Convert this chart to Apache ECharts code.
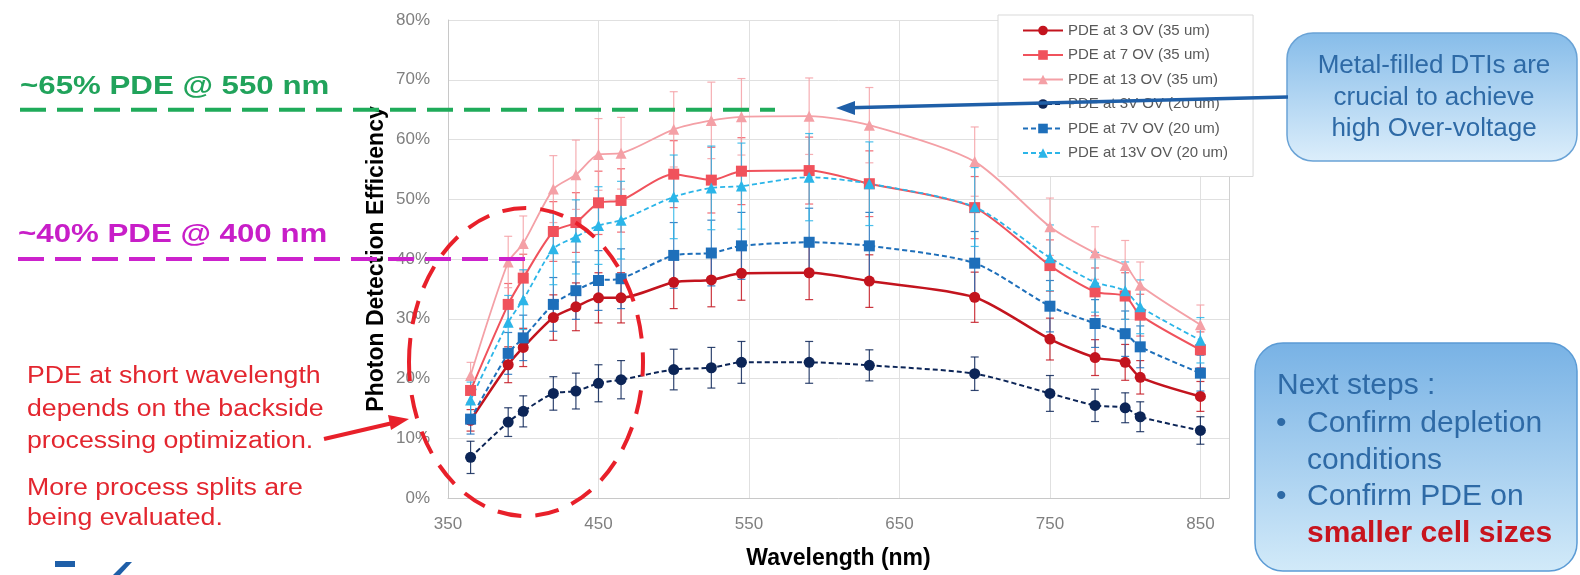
<!DOCTYPE html>
<html>
<head>
<meta charset="utf-8">
<script src="https://cdn.jsdelivr.net/npm/echarts@6/dist/echarts.min.js"></script>
<style>
  html, body { margin: 0; padding: 0; background: #fff; }
  #chart { width: 1580px; height: 575px; }
</style>
</head>
<body>
<div id="chart"></div>
<script>
// wavelengths (nm)
const wavelengths = [365, 390, 400, 420, 435, 450, 465, 500, 525, 545, 590, 630, 700, 750, 780, 800, 810, 850]

// PDE values (%)
const pde3ov35 = [13.0, 22.3, 25.2, 30.2, 32.0, 33.5, 33.5, 36.1, 36.5, 37.6, 37.7, 36.3, 33.6, 26.6, 23.5, 22.7, 20.2, 17.0]
const pde7ov35 = [18.0, 32.4, 36.8, 44.6, 46.1, 49.4, 49.8, 54.2, 53.2, 54.7, 54.8, 52.6, 48.6, 38.9, 34.5, 33.8, 30.6, 24.8]
const pde13ov35 = [20.5, 39.5, 42.6, 51.7, 54.1, 57.5, 57.7, 61.7, 63.2, 63.8, 63.9, 62.4, 56.3, 45.4, 41.0, 38.9, 35.6, 29.0]
const pde3ov20 = [6.8, 12.7, 14.5, 17.5, 17.9, 19.2, 19.8, 21.5, 21.8, 22.7, 22.7, 22.2, 20.8, 17.5, 15.5, 15.1, 13.6, 11.3]
const pde7ov20 = [13.2, 24.2, 26.8, 32.4, 34.7, 36.4, 36.7, 40.6, 41.0, 42.2, 42.8, 42.2, 39.3, 32.1, 29.2, 27.5, 25.3, 20.9]
const pde13ov20 = [16.4, 29.4, 33.2, 41.7, 43.7, 45.6, 46.5, 50.4, 51.9, 52.2, 53.7, 52.6, 48.7, 40.2, 36.1, 34.7, 32.0, 26.4]

// error bar half-heights (%)
const err3ov35 = [1.8, 3.0, 3.2, 3.8, 4.0, 4.2, 4.2, 4.4, 4.5, 4.5, 4.5, 4.4, 4.2, 3.5, 3.0, 3.0, 2.8, 2.5]
const err7ov35 = [2.0, 3.5, 4.0, 5.0, 5.0, 5.3, 5.3, 5.6, 5.5, 5.6, 5.6, 5.5, 5.2, 4.3, 4.0, 3.9, 3.5, 3.0]
const err13ov35 = [2.2, 4.3, 4.6, 5.6, 5.8, 6.0, 6.0, 6.3, 6.4, 6.4, 6.4, 6.3, 5.8, 4.8, 4.4, 4.2, 3.9, 3.3]
const err3ov20 = [2.7, 2.4, 2.6, 2.8, 3.0, 3.1, 3.2, 3.4, 3.4, 3.5, 3.5, 2.6, 2.8, 3.0, 2.7, 2.5, 2.5, 2.3]
const err7ov20 = [2.5, 3.5, 3.8, 4.5, 4.8, 5.0, 5.0, 5.5, 5.5, 5.6, 5.7, 5.6, 5.3, 4.3, 4.0, 3.8, 3.5, 3.0]
const err13ov20 = [3.0, 4.5, 5.0, 6.0, 6.2, 6.5, 6.5, 7.0, 7.0, 7.2, 7.3, 7.0, 6.6, 5.5, 5.0, 4.8, 4.5, 3.8]

const seriesNames = [
  'PDE at 3 OV (35 um)', 'PDE at 7 OV (35 um)', 'PDE at 13 OV (35 um)',
  'PDE at 3V OV (20 um)', 'PDE at 7V OV (20 um)', 'PDE at 13V OV (20 um)'
]

// reference levels for the annotations (%)
const levelHigh = 65
const levelLow = 40

const FONT = '"Liberation Sans", Arial, sans-serif'

const styles = [
  { values: pde3ov35, errs: err3ov35, color: '#c3141e', symbol: 'circle', width: 2.5, dash: 'solid' },
  { values: pde7ov35, errs: err7ov35, color: '#f0525c', symbol: 'rect', width: 2, dash: 'solid' },
  { values: pde13ov35, errs: err13ov35, color: '#f4a0a6', symbol: 'triangle', width: 1.8, dash: 'solid' },
  { values: pde3ov20, errs: err3ov20, color: '#0c2557', symbol: 'circle', width: 2, dash: [5, 3] },
  { values: pde7ov20, errs: err7ov20, color: '#1e6fba', symbol: 'rect', width: 2, dash: [5, 3] },
  { values: pde13ov20, errs: err13ov20, color: '#2bb5e8', symbol: 'triangle', width: 1.8, dash: [5, 3] }
]

const chart = echarts.init(document.getElementById('chart'))

// error bars first, lines on top
const errorSeries = styles.map((s, k) => ({
  name: 'err' + k,
  type: 'custom',
  z: 1,
  silent: true,
  encode: { x: 0, y: [1, 2] },
  data: wavelengths.map((w, i) => [w, s.values[i] - s.errs[i], s.values[i] + s.errs[i]]),
  renderItem: (params, api) => {
    const lo = api.coord([api.value(0), api.value(1)])
    const hi = api.coord([api.value(0), api.value(2)])
    const cap = 4
    const st = { stroke: s.color, lineWidth: 1.2, opacity: 0.85 }
    return {
      type: 'group',
      children: [
        { type: 'line', shape: { x1: lo[0], y1: lo[1], x2: hi[0], y2: hi[1] }, style: st },
        { type: 'line', shape: { x1: lo[0] - cap, y1: lo[1], x2: lo[0] + cap, y2: lo[1] }, style: st },
        { type: 'line', shape: { x1: hi[0] - cap, y1: hi[1], x2: hi[0] + cap, y2: hi[1] }, style: st }
      ]
    }
  }
}))

const lineSeries = styles.map((s, k) => ({
  name: seriesNames[k],
  type: 'line',
  z: 3,
  smooth: 0.25,
  symbol: s.symbol,
  symbolSize: 11,
  data: wavelengths.map((w, i) => [w, s.values[i]]),
  lineStyle: { color: s.color, width: s.width, type: s.dash },
  itemStyle: { color: s.color }
}))

const option = {
  backgroundColor: '#fff',
  animation: false,
  grid: { left: 448, right: 351, top: 20, bottom: 73 },
  legend: {
    data: seriesNames,
    orient: 'vertical',
    left: 998,
    top: 15,
    padding: [8, 25, 16, 24],
    itemGap: 9.5,
    itemWidth: 40,
    itemHeight: 12,
    backgroundColor: '#fff',
    borderColor: '#d9d9d9',
    borderWidth: 1,
    textStyle: { color: '#595959', fontSize: 15, fontFamily: FONT }
  },
  xAxis: {
    type: 'value',
    min: 350,
    max: 869,
    interval: 100,
    name: 'Wavelength (nm)',
    nameLocation: 'middle',
    nameGap: 49,
    nameTextStyle: { color: '#000', fontSize: 23, fontWeight: 'bold', fontFamily: FONT },
    axisLine: { lineStyle: { color: '#c8c8c8' } },
    axisTick: { show: false },
    axisLabel: { color: '#7f7f7f', fontSize: 17, margin: 18, fontFamily: FONT, showMaxLabel: false },
    splitLine: { lineStyle: { color: '#e0e0e0' } }
  },
  yAxis: [{
    type: 'value',
    min: 0,
    max: 80,
    interval: 10,
    name: 'Photon Detection Efficiency',
    nameLocation: 'middle',
    nameGap: 60,
    nameTextStyle: { color: '#000', fontSize: 23, fontWeight: 'bold', fontFamily: FONT },
    axisLine: { show: true, lineStyle: { color: '#c8c8c8' } },
    axisTick: { show: false },
    axisLabel: { color: '#7f7f7f', fontSize: 17, margin: 18, fontFamily: FONT, formatter: '{value}%' },
    splitLine: { lineStyle: { color: '#e0e0e0' } }
  }, {
    type: 'value',
    position: 'right',
    min: 0,
    max: 80,
    axisLine: { show: true, lineStyle: { color: '#d0d0d0' } },
    axisTick: { show: false },
    axisLabel: { show: false },
    splitLine: { show: false }
  }],
  series: [...errorSeries, ...lineSeries]
}

chart.setOption(option)

// annotations, placed from the chart's own scales
const yHigh = chart.convertToPixel({ yAxisIndex: 0 }, levelHigh)
const yLow = chart.convertToPixel({ yAxisIndex: 0 }, levelLow)

const txt = (x, y, text, font, fill, scaleX) => ({
  type: 'text', x, y, z: 100, scaleX: scaleX || 1,
  style: { text, font, fill, verticalAlign: 'middle' }
})
const ctxt = (x, y, text, font, fill) => ({
  type: 'text', x, y, z: 101,
  style: { text, font, fill, align: 'center', verticalAlign: 'middle' }
})

const redArrowTip = [409, 419]
const redArrowTail = [324, 439]
const blueTail = [1288, 97]
const blueTip = [836, 108]

chart.setOption({
  graphic: [
    // green level
    txt(20, 87, '~65% PDE @ 550 nm', 'bold 25px ' + FONT, '#21a35b', 1.25),
    { type: 'line', z: 100, shape: { x1: 20, y1: yHigh, x2: 775, y2: yHigh },
      style: { stroke: '#1fab5a', lineWidth: 4, lineDash: [26, 11] } },
    // magenta level
    txt(18, 235, '~40% PDE @ 400 nm', 'bold 25px ' + FONT, '#c81ec8', 1.25),
    { type: 'line', z: 100, shape: { x1: 18, y1: yLow, x2: 535, y2: yLow },
      style: { stroke: '#cc22cc', lineWidth: 4, lineDash: [26, 11] } },
    // dashed ellipse
    { type: 'ellipse', z: 100, shape: { cx: 526, cy: 362, rx: 117, ry: 154 },
      style: { fill: 'none', stroke: '#e8202a', lineWidth: 4, lineDash: [24, 14] } },
    // red text + arrow
    txt(27, 377, 'PDE at short wavelength', '23px ' + FONT, '#e3262f', 1.16),
    txt(27, 410, 'depends on the backside', '23px ' + FONT, '#e3262f', 1.16),
    txt(27, 442, 'processing optimization.', '23px ' + FONT, '#e3262f', 1.16),
    txt(27, 489, 'More process splits are', '23px ' + FONT, '#e3262f', 1.16),
    txt(27, 519, 'being evaluated.', '23px ' + FONT, '#e3262f', 1.16),
    { type: 'line', z: 100, shape: { x1: redArrowTail[0], y1: redArrowTail[1], x2: redArrowTip[0] - 12, y2: redArrowTip[1] + 3 },
      style: { stroke: '#e8202a', lineWidth: 4 } },
    { type: 'polygon', z: 100,
      shape: { points: [redArrowTip, [391, 430], [388, 415]] },
      style: { fill: '#e8202a' } },
    // blue arrow to the peak
    { type: 'line', z: 100, shape: { x1: blueTail[0], y1: blueTail[1], x2: blueTip[0] + 14, y2: blueTip[1] - 0.3 },
      style: { stroke: '#1f5fa8', lineWidth: 3.5 } },
    { type: 'polygon', z: 100,
      shape: { points: [blueTip, [blueTip[0] + 19, blueTip[1] - 7], [blueTip[0] + 19, blueTip[1] + 7]] },
      style: { fill: '#1f5fa8' } },
    // top callout
    { type: 'rect', z: 99, shape: { x: 1287, y: 33, width: 290, height: 128, r: 26 },
      style: {
        fill: new echarts.graphic.LinearGradient(0, 0, 0, 1, [
          { offset: 0, color: '#86bce9' }, { offset: 1, color: '#dceefb' }
        ]),
        stroke: '#6aa3d6', lineWidth: 1.5
      } },
    ctxt(1434, 66, 'Metal-filled DTIs are', '26px ' + FONT, '#2e6aa6'),
    ctxt(1434, 98, 'crucial to achieve', '26px ' + FONT, '#2e6aa6'),
    ctxt(1434, 129, 'high Over-voltage', '26px ' + FONT, '#2e6aa6'),
    // next steps callout
    { type: 'rect', z: 99, shape: { x: 1255, y: 343, width: 322, height: 228, r: 28 },
      style: {
        fill: new echarts.graphic.LinearGradient(0, 0, 0, 1, [
          { offset: 0, color: '#78b2e5' }, { offset: 1, color: '#d2eaf9' }
        ]),
        stroke: '#5b9bd5', lineWidth: 1.5
      } },
    txt(1277, 386, 'Next steps :', '30px ' + FONT, '#2e6aa6'),
    txt(1276, 424, '•', '30px ' + FONT, '#2e6aa6'),
    txt(1307, 424, 'Confirm depletion', '30px ' + FONT, '#2e6aa6'),
    txt(1307, 461, 'conditions', '30px ' + FONT, '#2e6aa6'),
    txt(1276, 497, '•', '30px ' + FONT, '#2e6aa6'),
    txt(1307, 497, 'Confirm PDE on', '30px ' + FONT, '#2e6aa6'),
    txt(1307, 534, 'smaller cell sizes', 'bold 30px ' + FONT, '#c8141e'),
    // logo fragment
    { type: 'rect', z: 100, shape: { x: 55, y: 561, width: 20, height: 6 }, style: { fill: '#1f5fa8' } },
    { type: 'polygon', z: 100, shape: { points: [[113, 575], [126, 562], [132, 562], [120, 575]] }, style: { fill: '#1f5fa8' } }
  ]
})
</script>
</body>
</html>
